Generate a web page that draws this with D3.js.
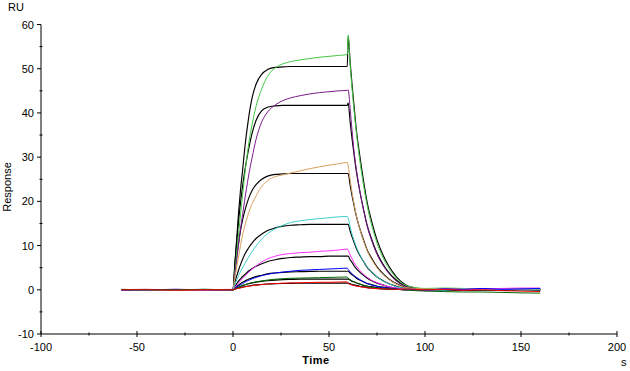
<!DOCTYPE html>
<html>
<head>
<meta charset="utf-8">
<script src="https://cdn.jsdelivr.net/npm/d3@7"></script>
<style>
  body { margin: 0; background: #fff; }
  text { font-family: "Liberation Sans", Arial, sans-serif; font-size: 11px; fill: #000; }
</style>
</head>
<body>
<div id="chart"></div>
<script>
// time points (s), shared by every curve
const time = [-58,-45,-30,-15,-1,
  0,1,2,3,4,5,6,8,10,12,15,18,22,26,30,35,40,45,50,55,59.5,
  60,61,62,63,64,66,68,70,72,75,78,81,85,90,95,100,110,120,130,140,150,160];

// fitted curves (black)
const fit1 = [0,0,0,0,0, 0,6,12,18,23,27,31.5,38.5,43.5,46.5,48.8,49.8,50.3,50.4,50.5,50.5,50.5,50.5,50.5,50.5,50.5,
  57.3,51.6,46.4,41.8,37.2,30.4,24.6,19.5,15.8,11.3,8.0,5.5,3.0,1.1,0.4,0.1,0,0,0,0,0,0];
const fit2 = [0,0,0,0,0, 0,6,11,16,20,23.5,26.5,31.5,35.5,38.3,40.5,41.3,41.6,41.7,41.7,41.7,41.7,41.7,41.7,41.7,41.7,
  42.3,38,34.2,30.8,27.5,22.4,18.2,14.4,11.7,8.3,5.9,4.0,2.2,0.8,0.3,0.1,0,0,0,0,0,0];
const fit3 = [0,0,0,0,0, 0,4.3,8,11,13.6,15.8,17.6,20.5,22.5,23.8,25,25.7,26.1,26.2,26.3,26.3,26.3,26.3,26.3,26.3,26.3,
  26.3,23.7,21.3,19.2,17.1,13.9,11.3,8.9,7.3,5.2,3.7,2.5,1.4,0.5,0.2,0.1,0,0,0,0,0,0];
const fit4 = [0,0,0,0,0, 0,1.7,3.2,4.6,5.8,6.9,7.9,9.4,10.6,11.6,12.6,13.4,14,14.4,14.6,14.7,14.8,14.8,14.8,14.8,14.8,
  14.8,13.3,12.0,10.8,9.6,7.8,6.4,5.0,4.1,2.9,2.1,1.4,0.8,0.3,0.1,0,0,0,0,0,0,0];
const fit5 = [0,0,0,0,0, 0,0.7,1.4,2.0,2.5,3.0,3.4,4.2,4.8,5.3,5.9,6.4,6.8,7.1,7.3,7.4,7.5,7.5,7.6,7.6,7.6,
  7.6,6.8,6.2,5.5,4.9,4.0,3.3,2.6,2.1,1.5,1.1,0.7,0.4,0.1,0.1,0,0,0,0,0,0,0];
const fit6 = [0,0,0,0,0, 0,0.4,0.8,1.1,1.4,1.7,1.9,2.4,2.7,3.0,3.3,3.6,3.8,3.95,4.05,4.1,4.15,4.2,4.2,4.2,4.2,
  4.2,3.8,3.4,3.1,2.7,2.2,1.8,1.4,1.2,0.8,0.6,0.4,0.2,0.1,0,0,0,0,0,0,0,0];
const fit7 = [0,0,0,0,0, 0,0.2,0.4,0.6,0.8,0.95,1.1,1.35,1.55,1.7,1.9,2.05,2.2,2.3,2.35,2.4,2.4,2.4,2.4,2.4,2.4,
  2.4,2.2,1.9,1.8,1.6,1.3,1.0,0.8,0.7,0.5,0.3,0.2,0.1,0,0,0,0,0,0,0,0,0];
const fit8 = [0,0,0,0,0, 0,0.15,0.28,0.4,0.5,0.6,0.7,0.85,1.0,1.1,1.2,1.3,1.38,1.43,1.46,1.48,1.5,1.5,1.5,1.5,1.5,
  1.5,1.35,1.2,1.1,1.0,0.8,0.65,0.5,0.4,0.3,0.2,0.15,0.1,0,0,0,0,0,0,0,0,0];

// measured curves (coloured)
const data1 = [0,0.1,-0.1,0.1,0, 0,4,8.5,13,17.5,21.5,25.5,32.5,37.5,41.5,45.5,48.3,50.2,51.1,51.6,52,52.3,52.6,52.8,53,53.2,
  57.6,51,45.5,40.8,36.5,29.4,23.6,18.8,15,10.6,7.4,5,2.7,1,0.5,0.3,0.4,0.3,0.2,0.3,0.2,0.2];
const data2 = [0,0,0.1,0,-0.1, 0,3.5,7,10.5,14,17,20,25.5,30,34,38,40.2,41.8,42.8,43.4,43.9,44.3,44.6,44.8,45,45.1,
  45.2,41,36,31.5,28,22.5,18,14.2,11.4,8,5.6,3.8,2,0.7,0.2,0,0.2,0.1,0.3,0.2,0.1,0.1];
const data3 = [0.1,0,0,-0.1,0, 0,2.8,5.3,7.7,10.2,12.4,14.2,17.2,19.5,21.2,23.4,24.7,25.6,26,26.4,26.9,27.4,27.8,28.2,28.5,28.8,
  28,25,22,19.5,17.3,13.8,11,8.7,7,5,3.5,2.4,1.3,0.5,0.3,0.2,0.1,0.3,0.1,0.2,0,0.1];
const data4 = [0,-0.1,0,0.1,0, 0,1.2,2.3,3.3,4.2,5,5.8,7.3,8.7,9.9,11.5,12.7,13.8,14.6,15.2,15.6,15.9,16.1,16.3,16.5,16.6,
  16.2,14.3,12.6,11.2,10,8,6.4,5.1,4.1,2.9,2,1.4,0.7,0.3,0.1,0,-0.1,0.2,0,0.1,-0.1,0];
const data5 = [0,0.1,0,0,0.1, 0,0.5,1.1,1.6,2.1,2.6,3.0,3.9,4.7,5.4,6.3,7.0,7.6,8.0,8.2,8.4,8.5,8.7,8.8,9.0,9.2,
  8.9,7.9,7.0,6.2,5.5,4.4,3.5,2.8,2.2,1.6,1.1,0.7,0.4,0.1,0,-0.1,0.1,0,0.2,0.3,0.4,0.4];
const data6 = [0,0,0.1,0,0, 0,0.3,0.6,0.9,1.2,1.4,1.7,2.1,2.5,2.8,3.2,3.5,3.8,4.0,4.2,4.4,4.5,4.6,4.7,4.8,4.9,
  4.6,4.1,3.6,3.2,2.9,2.3,1.8,1.4,1.1,0.8,0.5,0.4,0.2,0,0.1,-0.1,0.2,0.1,0.3,0.1,0.2,0.3];
const data7 = [0.1,0,0,0.1,0, 0,0.2,0.4,0.6,0.8,1.0,1.1,1.4,1.6,1.8,2.0,2.2,2.4,2.5,2.6,2.65,2.7,2.75,2.8,2.85,2.9,
  2.6,2.3,2.0,1.8,1.6,1.3,1.0,0.8,0.6,0.4,0.3,0.2,0.1,0,-0.2,-0.3,-0.4,-0.5,-0.5,-0.6,-0.7,-0.75];
const data8 = [0,0,-0.1,0,0, 0,0.1,0.25,0.35,0.45,0.55,0.65,0.8,0.95,1.05,1.2,1.3,1.4,1.5,1.55,1.6,1.65,1.7,1.7,1.75,1.8,
  1.4,1.2,1.05,0.95,0.85,0.7,0.55,0.45,0.35,0.25,0.2,0.15,0.1,0.2,0.1,0,0.1,-0.1,0,-0.2,-0.3,-0.4];

const fits = [fit1, fit2, fit3, fit4, fit5, fit6, fit7, fit8];
const measured = [data1, data2, data3, data4, data5, data6, data7, data8];
const colors = ["#45c845", "#7d1a8c", "#d9a15e", "#3fcfc9", "#ff30ff", "#0000ff", "#006400", "#ff0000"];

const xTicks = [-100, -50, 0, 50, 100, 150, 200];
const yTicks = [-10, 0, 10, 20, 30, 40, 50, 60];

const width = 630, height = 371;

const x = d3.scaleLinear().domain([-100, 200]).range([41, 617]);
const y = d3.scaleLinear().domain([-10, 60]).range([334, 24.5]);

const svg = d3.select("#chart").append("svg")
  .attr("width", width)
  .attr("height", height);

const line = d3.line()
  .x((d, i) => x(time[i]))
  .y(d => y(d))
  .curve(d3.curveMonotoneX);

// fits first, data on top
svg.append("g").selectAll("path.fit")
  .data(fits)
  .enter()
  .append("path")
  .attr("class", "fit")
  .attr("d", line)
  .attr("fill", "none")
  .attr("stroke", "#000")
  .attr("stroke-width", 1.15);

svg.append("g").selectAll("path.data")
  .data(measured)
  .enter()
  .append("path")
  .attr("class", "data")
  .attr("d", line)
  .attr("fill", "none")
  .attr("stroke", (d, i) => colors[i])
  .attr("stroke-width", 1);

// axes
const xAxis = svg.append("g").attr("transform", `translate(0,${y(-10)})`);
xAxis.append("line")
  .attr("x1", x(-100)).attr("x2", x(200))
  .attr("stroke", "#000");
xAxis.selectAll("line.minor")
  .data(d3.range(-75, 200, 50))
  .enter().append("line")
  .attr("x1", d => x(d)).attr("x2", d => x(d))
  .attr("y1", -1.5).attr("y2", 1.5)
  .attr("stroke", "#000");
xAxis.selectAll("line.major")
  .data(xTicks)
  .enter().append("line")
  .attr("x1", d => x(d)).attr("x2", d => x(d))
  .attr("y1", -3).attr("y2", 3)
  .attr("stroke", "#000");
xAxis.selectAll("text")
  .data(xTicks)
  .enter().append("text")
  .attr("x", d => x(d))
  .attr("y", 17)
  .attr("text-anchor", "middle")
  .text(d => d);

const yAxis = svg.append("g").attr("transform", `translate(${x(-100)},0)`);
yAxis.append("line")
  .attr("y1", y(-10)).attr("y2", y(60))
  .attr("stroke", "#000");
yAxis.selectAll("line.minor")
  .data(d3.range(-5, 60, 10))
  .enter().append("line")
  .attr("y1", d => y(d)).attr("y2", d => y(d))
  .attr("x1", -1.5).attr("x2", 1.5)
  .attr("stroke", "#000");
yAxis.selectAll("line.major")
  .data(yTicks)
  .enter().append("line")
  .attr("y1", d => y(d)).attr("y2", d => y(d))
  .attr("x1", -4).attr("x2", 0)
  .attr("stroke", "#000");
yAxis.selectAll("text")
  .data(yTicks)
  .enter().append("text")
  .attr("x", -7)
  .attr("y", d => y(d) + 4)
  .attr("text-anchor", "end")
  .text(d => d);

// labels
svg.append("text").attr("x", 8).attr("y", 11).text("RU");
svg.append("text")
  .attr("transform", "translate(11,187) rotate(-90)")
  .attr("text-anchor", "middle")
  .text("Response");
svg.append("text")
  .attr("x", 316).attr("y", 364)
  .attr("text-anchor", "middle")
  .attr("font-weight", "bold")
  .style("letter-spacing", "0.5px")
  .text("Time");
svg.append("text").attr("x", 621).attr("y", 366).text("s");
</script>
</body>
</html>
